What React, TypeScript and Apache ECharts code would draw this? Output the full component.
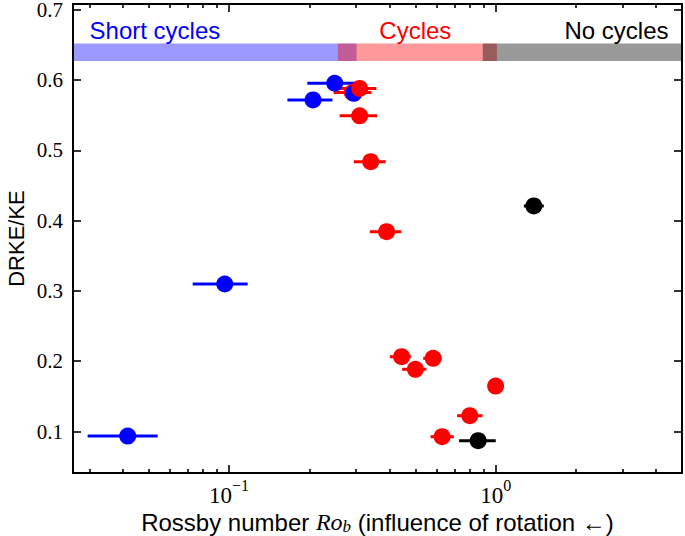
import { useEffect, useRef } from "react";
import * as echarts from "echarts";

// Axis ranges (Rossby number is on a log axis)
const X_MIN = 0.026;
const X_MAX = 5;
const Y_MIN = 0.041;
const Y_MAX = 0.708;

const majorXTicks = [0.1, 1];
const minorXTicks = [0.03, 0.04, 0.05, 0.06, 0.07, 0.08, 0.09, 0.2, 0.3, 0.4, 0.5, 0.6, 0.7, 0.8, 0.9, 2, 3, 4];
const yTicks = [0.1, 0.2, 0.3, 0.4, 0.5, 0.6, 0.7];

// Regime bands at the top
const bandNames = ["Short cycles", "Cycles", "No cycles"];
const bandColors = ["#0000ff", "#ff0000", "#000000"];
const bandLo = [X_MIN, 0.256, 0.895];
const bandHi = [0.301, 1.011, X_MAX];
const bandBottom = 0.627;
const bandTop = 0.652;
const bandLabelX = [0.03, 0.5, 4.45];
const bandLabelAlign = ["left", "center", "right"];

// Short cycles (blue)
const blueRo = [0.0417, 0.0964, 0.2066, 0.2492, 0.294];
const blueLo = [0.0295, 0.0731, 0.1656, 0.1967, 0.283];
const blueHi = [0.054, 0.1175, 0.2443, 0.304, 0.305];
const blueY = [0.0936, 0.3098, 0.5716, 0.5953, 0.581];

// Cycles (red) — one point hidden beneath a blue marker
const redUnderRo = [0.29];
const redUnderLo = [0.247];
const redUnderHi = [0.342];
const redUnderY = [0.582];

const redRo = [0.309, 0.309, 0.34, 0.39, 0.444, 0.583, 0.5, 1.0, 0.8, 0.63];
const redLo = [0.245, 0.26, 0.294, 0.3375, 0.401, 0.535, 0.446, 0.975, 0.717, 0.57];
const redHi = [0.357, 0.359, 0.387, 0.443, 0.481, 0.627, 0.55, 1.025, 0.893, 0.697];
const redY = [0.588, 0.549, 0.4838, 0.3842, 0.2064, 0.2041, 0.1885, 0.1647, 0.1225, 0.0926];

// No cycles (black)
const blackRo = [1.391, 0.86];
const blackLo = [1.276, 0.7295];
const blackHi = [1.516, 1.001];
const blackY = [0.4208, 0.0869];

const L = (v: number) => Math.log10(v);
const SANS = "Liberation Sans";
const SERIF = "Liberation Serif";

function errSeries(lo: number[], hi: number[], y: number[], color: string) {
  return {
    type: "custom",
    xAxisIndex: 0,
    yAxisIndex: 0,
    silent: true,
    encode: { x: [0, 1], y: 2 },
    data: y.map((yy, i) => [L(lo[i]), L(hi[i]), yy]),
    renderItem: (_params: any, api: any) => {
      const p1 = api.coord([api.value(0), api.value(2)]);
      const p2 = api.coord([api.value(1), api.value(2)]);
      return {
        type: "line",
        shape: { x1: p1[0], y1: p1[1], x2: p2[0], y2: p2[1] },
        style: { stroke: color, lineWidth: 3 },
      };
    },
  };
}

function dotSeries(ro: number[], y: number[], color: string) {
  return {
    type: "scatter",
    xAxisIndex: 0,
    yAxisIndex: 0,
    symbol: "circle",
    symbolSize: 17,
    itemStyle: { color, opacity: 1 },
    data: y.map((yy, i) => [L(ro[i]), yy]),
  };
}

export default function App() {
  const ref = useRef<HTMLDivElement>(null);
  useEffect(() => {
    if (!ref.current) return;
    const chart = echarts.init(ref.current, null, { renderer: "svg" });
    const xMin = L(X_MIN);
    const xMax = L(X_MAX);
    const tickLine = { color: "#000", width: 1.6 };
    const xCommon = {
      type: "value",
      min: xMin,
      max: xMax,
      splitLine: { show: false },
    };
    const option: any = {
      animation: false,
      backgroundColor: "#ffffff",
      grid: { left: 73, right: 3, top: 4, bottom: 63, containLabel: false, outerBoundsMode: "none" },
      xAxis: [
        {
          ...xCommon,
          position: "bottom",
          axisLine: { show: true, onZero: false, lineStyle: { color: "#000", width: 2 } },
          axisTick: { show: true, inside: true, length: 8, lineStyle: tickLine, customValues: majorXTicks.map(L) },
          axisLabel: {
            show: true,
            customValues: majorXTicks.map(L),
            margin: 4,
            formatter: (v: number) => {
              const e = Math.round(v);
              return "{n|10}{e|" + (e < 0 ? "\u2212" + Math.abs(e) : String(e)) + "}";
            },
            rich: {
              n: { fontFamily: SERIF, fontSize: 23, color: "#000", lineHeight: 30, verticalAlign: "bottom" },
              e: { fontFamily: SERIF, fontSize: 16, color: "#000", lineHeight: 16, verticalAlign: "top" },
            },
          },
          name: "{a|Rossby number }{i|Ro}{s|b}{a| (influence of rotation \u2190)}",
          nameLocation: "middle",
          nameGap: 36,
          nameMoveOverlap: false,
          nameTextStyle: {
            rich: {
              a: { fontFamily: SANS, fontSize: 24, color: "#000", lineHeight: 26 },
              i: { fontFamily: SERIF, fontStyle: "italic", fontSize: 24, color: "#000", lineHeight: 26 },
              s: { fontFamily: SERIF, fontStyle: "italic", fontSize: 17, color: "#000", lineHeight: 12, verticalAlign: "bottom" },
            },
          },
        },
        {
          ...xCommon,
          position: "bottom",
          axisLine: { show: false, onZero: false },
          axisTick: { show: true, inside: true, length: 4, lineStyle: tickLine, customValues: minorXTicks.map(L) },
          axisLabel: { show: false },
        },
        {
          ...xCommon,
          position: "top",
          axisLine: { show: true, onZero: false, lineStyle: { color: "#000", width: 2 } },
          axisTick: { show: true, inside: true, length: 8, lineStyle: tickLine, customValues: majorXTicks.map(L) },
          axisLabel: { show: false },
        },
        {
          ...xCommon,
          position: "top",
          axisLine: { show: false, onZero: false },
          axisTick: { show: true, inside: true, length: 4, lineStyle: tickLine, customValues: minorXTicks.map(L) },
          axisLabel: { show: false },
        },
      ],
      yAxis: [
        {
          type: "value",
          position: "left",
          min: Y_MIN,
          max: Y_MAX,
          splitLine: { show: false },
          axisLine: { show: true, onZero: false, lineStyle: { color: "#000", width: 2 } },
          axisTick: { show: true, inside: true, length: 8, lineStyle: tickLine, customValues: yTicks },
          axisLabel: {
            show: true,
            customValues: yTicks,
            margin: 10,
            fontFamily: SERIF,
            fontSize: 21,
            lineHeight: 16,
            color: "#000",
            formatter: (v: number) => v.toFixed(1),
          },
          name: "DRKE/KE",
          nameLocation: "middle",
          nameGap: 46,
          nameMoveOverlap: false,
          nameTextStyle: { fontFamily: SANS, fontSize: 22, color: "#000" },
        },
        {
          type: "value",
          position: "right",
          min: Y_MIN,
          max: Y_MAX,
          splitLine: { show: false },
          axisLine: { show: true, onZero: false, lineStyle: { color: "#000", width: 2 } },
          axisTick: { show: true, inside: true, length: 8, lineStyle: tickLine, customValues: yTicks },
          axisLabel: { show: false },
        },
      ],
      series: [
        {
          type: "line",
          xAxisIndex: 0,
          yAxisIndex: 0,
          silent: true,
          showSymbol: false,
          lineStyle: { opacity: 0 },
          data: [],
          markArea: {
            silent: true,
            label: { show: false },
            data: bandNames.map((_n, i) => [
              { coord: [L(bandLo[i]), bandBottom], itemStyle: { color: bandColors[i], opacity: 0.4 } },
              { coord: [L(bandHi[i]), bandTop] },
            ]),
          },
        },
        errSeries(redUnderLo, redUnderHi, redUnderY, "#ff0000"),
        dotSeries(redUnderRo, redUnderY, "#ff0000"),
        errSeries(blueLo, blueHi, blueY, "#0000ff"),
        dotSeries(blueRo, blueY, "#0000ff"),
        errSeries(redLo, redHi, redY, "#ff0000"),
        dotSeries(redRo, redY, "#ff0000"),
        errSeries(blackLo, blackHi, blackY, "#000000"),
        dotSeries(blackRo, blackY, "#000000"),
      ],
    };
    chart.setOption(option);
    // Regime labels placed from data coordinates
    const labels = bandNames.map((name, i) => {
      const p = chart.convertToPixel({ xAxisIndex: 0, yAxisIndex: 0 }, [L(bandLabelX[i]), bandTop]) as number[];
      return {
        type: "text",
        x: p[0],
        y: p[1] - 1,
        silent: true,
        style: {
          text: name,
          fill: bandColors[i],
          fontFamily: SANS,
          fontSize: 24,
          textAlign: bandLabelAlign[i],
          textVerticalAlign: "bottom",
          opacity: 1,
        },
      };
    });
    chart.setOption({ graphic: labels });
    return () => chart.dispose();
  }, []);
  return (
    <div
      ref={ref}
      style={{ position: "fixed", left: 0, top: 0, width: 685, height: 536, background: "#fff" }}
    />
  );
}
